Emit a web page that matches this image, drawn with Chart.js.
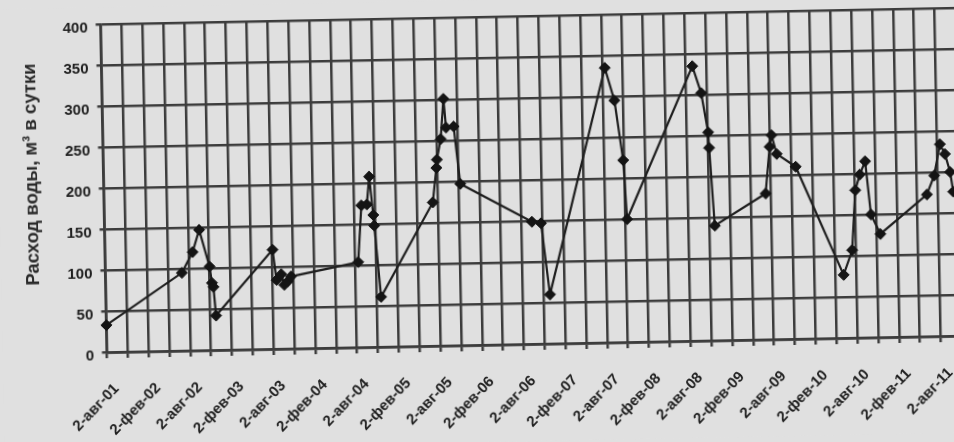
<!DOCTYPE html>
<html lang="ru">
<head>
<meta charset="utf-8">
<script src="https://cdn.jsdelivr.net/npm/chart.js@4.4.1/dist/chart.umd.min.js"></script>
<style>
  html, body { margin: 0; padding: 0; background: #e0e0e0; overflow: hidden; width: 954px; height: 442px; }
  #wrap { position: absolute; left: 0; top: 0; width: 960px; height: 442px; }
  canvas { display: block; transform: rotate(-1.1deg); transform-origin: 50% 50%; }
</style>
</head>
<body>
<div id="wrap"><canvas id="c" width="960" height="442"></canvas></div>
<script>
// Measurement dates, in months counted from 2 Aug 2001
const months = [
  0.0, 11.0, 12.6, 13.6, 15.0, 15.3, 15.5, 15.8,
  24.1, 24.6, 25.3, 25.7, 26.2, 26.7,
  36.4, 37.0, 37.8, 38.2, 38.7, 38.8, 39.6,
  47.3, 47.9, 48.0, 48.6, 49.1, 49.4, 50.5, 51.3,
  61.5, 62.8, 63.9, 72.4, 73.7, 74.8, 75.2,
  85.0, 86.2, 87.1, 87.2, 87.8,
  95.2, 95.9, 96.2, 96.9, 99.6,
  106.2, 107.5, 108.1, 108.8, 109.6, 110.3, 111.6,
  118.4, 119.5, 120.4, 121.1, 121.8, 122.2
];

// Water consumption, m³ per day
const flow = [
  33, 95, 120, 147, 102, 82, 77, 42,
  121, 84, 91, 78, 82, 88,
  104, 173, 174, 208, 161, 148, 61,
  175, 217, 227, 252, 301, 266, 267, 197,
  149, 147, 60, 335, 295, 222, 150,
  335, 302, 254, 235, 140,
  178, 235, 249, 226, 210,
  77, 107, 180, 199, 215, 150, 126,
  173, 196, 234, 222, 200, 176
];

// Axis labels every six months
const xTickLabels = [
  '2-авг-01', '2-фев-02', '2-авг-02', '2-фев-03', '2-авг-03', '2-фев-04', '2-авг-04',
  '2-фев-05', '2-авг-05', '2-фев-06', '2-авг-06', '2-фев-07', '2-авг-07', '2-фев-08',
  '2-авг-08', '2-фев-09', '2-авг-09', '2-фев-10', '2-авг-10', '2-фев-11', '2-авг-11'
];
const yTicks = [0, 50, 100, 150, 200, 250, 300, 350, 400];
const yTitle = 'Расход воды, м³ в сутки';

const ink = '#1e1e1e';
const gridInk = '#3c3c3c';
const fontFamily = "'Liberation Sans', Arial, sans-serif";

const points = months.map((m, i) => ({ x: m, y: flow[i] }));

// vertical title drawn beside the value axis
const yTitlePlugin = {
  id: 'yTitle',
  afterDraw(chart) {
    const ctx = chart.ctx;
    ctx.save();
    ctx.translate(33, 166);
    ctx.rotate(-Math.PI / 2);
    ctx.font = 'bold 18.5px ' + fontFamily;
    ctx.fillStyle = '#2a2a2a';
    ctx.textAlign = 'center';
    ctx.textBaseline = 'middle';
    ctx.fillText(yTitle, 0, 0);
    ctx.restore();
  }
};

const pageBg = {
  id: 'pageBg',
  beforeDraw(chart) {
    const ctx = chart.ctx;
    ctx.save();
    ctx.fillStyle = '#e0e0e0';
    ctx.fillRect(0, 0, chart.width, chart.height);
    ctx.restore();
  }
};

new Chart(document.getElementById('c'), {
  type: 'line',
  data: {
    datasets: [{
      data: points,
      borderColor: ink,
      borderWidth: 2.2,
      pointStyle: 'rectRot',
      pointRadius: 5.5,
      pointBackgroundColor: '#141414',
      pointBorderColor: '#141414',
      pointBorderWidth: 1,
      tension: 0,
      clip: false
    }]
  },
  options: {
    responsive: false,
    animation: false,
    layout: { autoPadding: false, padding: { left: 0, right: 0, top: 17, bottom: 0 } },
    plugins: { legend: { display: false }, tooltip: { enabled: false }, title: { display: false } },
    scales: {
      x: {
        type: 'linear',
        min: 0,
        max: 123.1,
        afterFit(scale) {
          scale.height = 97;
          scale.paddingLeft = 0;
          scale.paddingRight = 0;
        },
        afterBuildTicks(scale) {
          const t = [];
          for (let m = 0; m <= 120; m += 3) t.push({ value: m });
          scale.ticks = t;
        },
        grid: { color: gridInk, lineWidth: 2.5, tickLength: 6, drawTicks: true },
        border: { color: gridInk, width: 2.8 },
        ticks: {
          autoSkip: false,
          minRotation: 45,
          maxRotation: 45,
          padding: 22,
          labelOffset: 9,
          color: '#202020',
          font: { family: fontFamily, size: 15, weight: 'bold' },
          callback(v) { return v % 6 === 0 ? xTickLabels[v / 6] : ''; }
        }
      },
      y: {
        min: 0,
        max: 400,
        afterFit(scale) { scale.width = 104.5; },
        afterBuildTicks(scale) { scale.ticks = yTicks.map(v => ({ value: v })); },
        grid: { color: gridInk, lineWidth: 2.5, tickLength: 5, drawTicks: true },
        border: { color: gridInk, width: 2.8 },
        ticks: {
          padding: 8,
          labelOffset: 4,
          color: '#202020',
          font: { family: fontFamily, size: 15, weight: 'bold' }
        }
      }
    }
  },
  plugins: [pageBg, yTitlePlugin]
});
</script>
</body>
</html>
